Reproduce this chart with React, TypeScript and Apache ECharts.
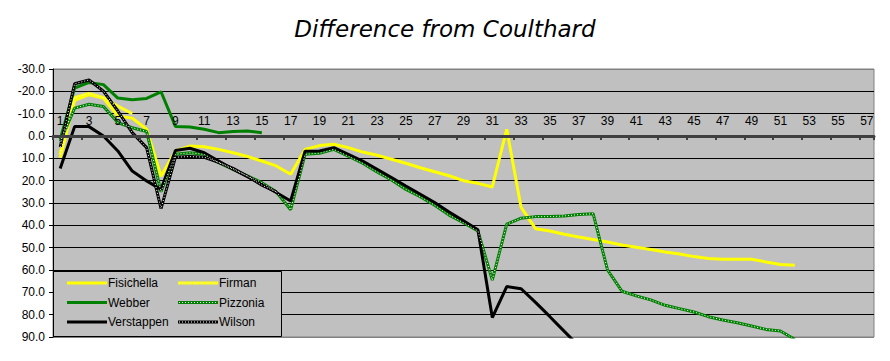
import React, { useEffect, useRef } from "react";
import * as echarts from "echarts";

const categories: string[] = Array.from({ length: 57 }, (_, i) => String(i + 1));

const fisichella: (number | null)[] = [
  9.7, -16, -18.5, -17, -9, -8, -3, 18, 6.7, 4.5, 4.8, 6, 7.5, 9.2, 11.2, 13.4, 17.1,
  6.0, 4.3, 3.7, 5.2, 7.2, 8.6, 10.4, 12.2, 14.2, 16, 17.8, 20, 21.2, 22.8, -3, 32,
  41.5, 42.5, 44, 45.2, 46.3, 47.5, 48.8, 49.8, 50.8, 51.9, 52.8, 54, 54.8, 55.2,
  55.2, 55.2, 56.4, 57.5, 57.9,
];
const firman: (number | null)[] = [8, -17.2, -19, -17.2, -13.4, -10];
const webber: (number | null)[] = [
  1.5, -21.5, -24, -23, -17, -16.2, -16.8, -19.8, -4.3, -4, -3, -1.5, -2, -2.2, -1.5,
];
const pizzonia: (number | null)[] = [
  2.5, -12.5, -14.2, -13.2, -6, -3.7, -2, 25, 8.2, 7.5, 8.2, 11.9, 14.9, 17.9, 20.9, 25,
  33, 8.2, 7.7, 6, 9, 12.2, 16.1, 19.7, 23.9, 27.2, 31, 35.4, 38.8, 42.5, 64.5, 39.5,
  36.8, 36.1, 36.1, 35.8, 35.2, 34.8, 60, 69.5, 71.6, 73.4, 75.8, 77.3, 78.8, 80.9,
  82.4, 83.6, 85.1, 86.6, 87.3, 91,
];
const verstappen: (number | null)[] = [
  14.6, -4.2, -4.2, 0, 6.7, 15.7, 20.1, 23.9, 6.5, 5.5, 7.5, 11.2, 14.9, 18.2, 21.6,
  25.3, 29.1, 6.8, 6.7, 5.2, 8.2, 11.2, 14.9, 18.6, 22.4, 26.1, 29.8, 34, 38, 42, 81.3,
  67.4, 68.4, 74.5, 80.9, 87.5, 94,
];
const wilson: (number | null)[] = [
  5, -23.4, -25.1, -20.1, -11.2, -1.5, 5.2, 32.5, 9.5, 9.2, 9.5, 11.8, 14.5, 18, 22, 25,
];

const yTicksMin = -30;
const yTicksMax = 90;
const yInterval = 10;

const FONT = "'Liberation Sans', Arial, sans-serif";

const GRID_TOP = 69;
const GRID_BOTTOM = 24;
const CHART_H = 361;

function icon(color: string, dots: boolean): string {
  let s = `<svg xmlns='http://www.w3.org/2000/svg' width='40' height='12' viewBox='0 0 40 12'><rect x='0' y='4.5' width='40' height='3' fill='${color}'/>`;
  if (dots) {
    for (let x = 1; x < 40; x += 3) {
      s += `<rect x='${x}' y='5.5' width='1' height='1' fill='white'/>`;
    }
  }
  s += "</svg>";
  return "image://data:image/svg+xml;charset=utf-8," + encodeURIComponent(s);
}

function solid(name: string, data: (number | null)[], color: string) {
  return {
    name,
    type: "line",
    data,
    symbol: "none",
    showSymbol: false,
    lineStyle: { color, width: 3, type: "solid" },
    itemStyle: { color },
    z: 3,
  };
}

function dotted(name: string, data: (number | null)[], color: string) {
  return [
    {
      name,
      type: "line",
      data,
      symbol: "none",
      showSymbol: false,
      lineStyle: { color, width: 3, type: "solid" },
      itemStyle: { color },
      z: 3,
    },
    {
      name: name + "_dots",
      type: "line",
      data,
      symbol: "none",
      showSymbol: false,
      lineStyle: { color: "#ffffff", width: 1, type: [1, 2] },
      itemStyle: { color: "#ffffff" },
      z: 4,
      silent: true,
    },
  ];
}

export default function App() {
  const ref = useRef<HTMLDivElement>(null);

  useEffect(() => {
    if (!ref.current) return;
    const chart = echarts.init(ref.current, undefined, { renderer: "svg" });
    const nLines = (yTicksMax - yTicksMin) / yInterval + 1;
    const splitColors = Array.from({ length: nLines }, (_, i) =>
      i === 0 || i === nLines - 1 ? "#808080" : "#000000"
    );
    const gridH = CHART_H - GRID_TOP - GRID_BOTTOM;
    const zeroOffset = (gridH * (0 - yTicksMin)) / (yTicksMax - yTicksMin);
    const legendCommon = {
      orient: "vertical",
      padding: 0,
      itemWidth: 40,
      itemHeight: 12,
      itemGap: 7.5,
      textStyle: { fontFamily: FONT, fontSize: 12, color: "#000", padding: [0, 0, 0, -4] },
      z: 10,
      selectedMode: false,
    };
    chart.setOption({
      animation: false,
      backgroundColor: "#ffffff",
      title: {
        text: "Difference from Coulthard",
        left: "center",
        top: 12,
        textStyle: {
          fontFamily: "'DejaVu Sans', sans-serif",
          fontStyle: "italic",
          fontWeight: "normal",
          fontSize: 23,
          color: "#000",
        },
      },
      grid: {
        left: 53,
        top: GRID_TOP,
        right: 16,
        bottom: GRID_BOTTOM,
        show: true,
        backgroundColor: "#C0C0C0",
        borderColor: "#808080",
        borderWidth: 1,
        containLabel: false,
      },
      legend: [
        {
          ...legendCommon,
          left: 67,
          top: 277,
          data: [
            { name: "Fisichella", icon: icon("#FFFF00", false) },
            { name: "Webber", icon: icon("#008000", false) },
            { name: "Verstappen", icon: icon("#000000", false) },
          ],
        },
        {
          ...legendCommon,
          left: 178,
          top: 277,
          data: [
            { name: "Firman", icon: icon("#FFFF00", true) },
            { name: "Pizzonia", icon: icon("#008000", true) },
            { name: "Wilson", icon: icon("#000000", true) },
          ],
        },
      ],
      graphic: [
        {
          type: "rect",
          z: 5,
          shape: { x: 53.5, y: 271.5, width: 228, height: 65 },
          style: { fill: "#C0C0C0", stroke: "#000000", lineWidth: 1 },
        },
      ],
      xAxis: {
        type: "category",
        data: categories,
        position: "top",
        offset: -zeroOffset,
        boundaryGap: true,
        axisLine: { show: true, onZero: false, lineStyle: { color: "#404040", width: 3 } },
        axisTick: { show: true, inside: true, length: 4, lineStyle: { color: "#404040", width: 2 } },
        axisLabel: {
          interval: 1,
          margin: 9,
          fontFamily: FONT,
          fontSize: 12,
          color: "#000",
        },
        splitLine: { show: false },
        z: 6,
      },
      yAxis: {
        type: "value",
        inverse: true,
        min: yTicksMin,
        max: yTicksMax,
        interval: yInterval,
        axisLine: { show: true, lineStyle: { color: "#000", width: 1 } },
        axisTick: { show: true, length: 4, lineStyle: { color: "#000" } },
        axisLabel: {
          formatter: (v: number) => v.toFixed(1),
          fontFamily: FONT,
          fontSize: 12,
          color: "#000",
          margin: 8,
        },
        splitLine: { show: true, lineStyle: { color: splitColors, width: 1 } },
      },
      series: [
        solid("Fisichella", fisichella, "#FFFF00"),
        ...dotted("Firman", firman, "#FFFF00"),
        solid("Webber", webber, "#008000"),
        ...dotted("Pizzonia", pizzonia, "#008000"),
        solid("Verstappen", verstappen, "#000000"),
        ...dotted("Wilson", wilson, "#000000"),
      ],
    });
    return () => chart.dispose();
  }, []);

  return (
    <div
      ref={ref}
      style={{ position: "fixed", left: 0, top: 0, width: 890, height: 361 }}
    />
  );
}
